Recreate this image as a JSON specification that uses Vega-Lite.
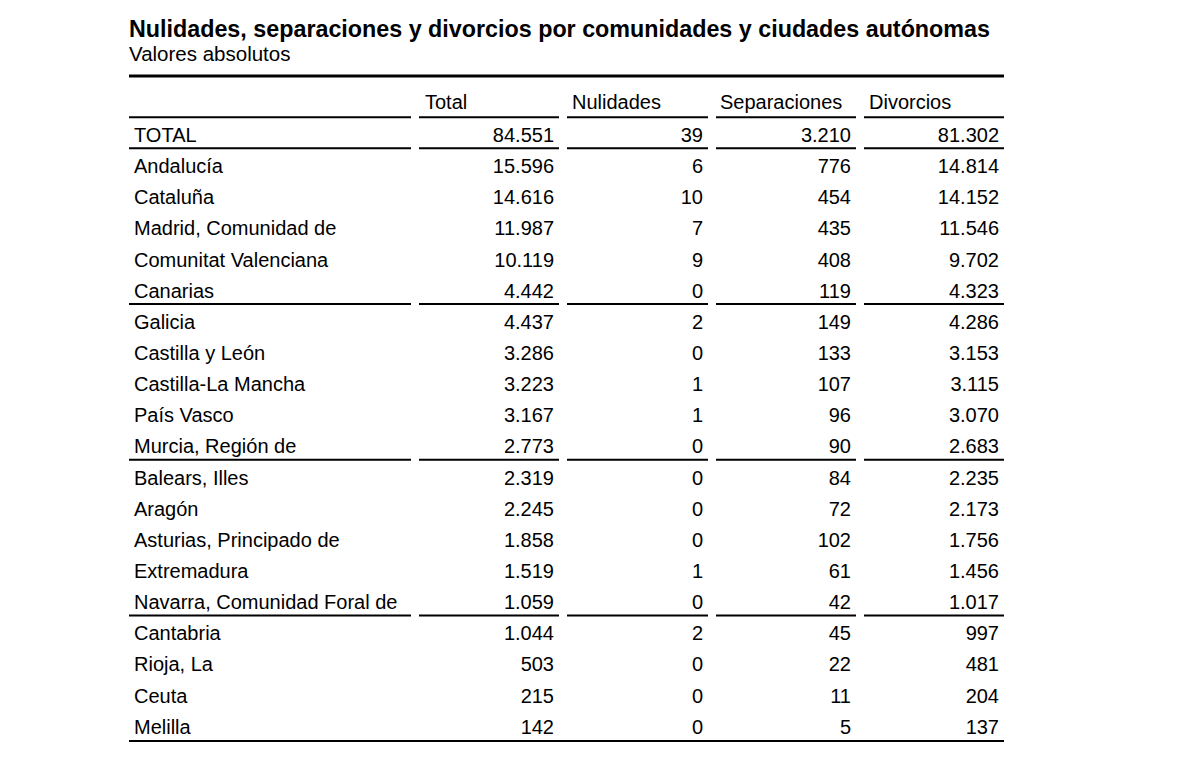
{
  "$schema": "https://vega.github.io/schema/vega-lite/v6.json",
  "padding": {"left": 127, "top": 17, "right": 10, "bottom": 10},
  "title": {
    "text": "Nulidades, separaciones y divorcios por comunidades y ciudades autónomas",
    "subtitle": "Valores absolutos",
    "anchor": "start",
    "frame": "group",
    "font": "Liberation Sans",
    "fontSize": 23.3,
    "fontWeight": "bold",
    "color": "black",
    "subtitleFont": "Liberation Sans",
    "subtitleFontSize": 20.5,
    "subtitleColor": "black",
    "subtitlePadding": 3,
    "offset": 8
  },
  "datasets": {
    "tabla": [
      {"Comunidad": "TOTAL", "Total": 84551, "Nulidades": 39, "Separaciones": 3210, "Divorcios": 81302},
      {"Comunidad": "Andalucía", "Total": 15596, "Nulidades": 6, "Separaciones": 776, "Divorcios": 14814},
      {"Comunidad": "Cataluña", "Total": 14616, "Nulidades": 10, "Separaciones": 454, "Divorcios": 14152},
      {"Comunidad": "Madrid, Comunidad de", "Total": 11987, "Nulidades": 7, "Separaciones": 435, "Divorcios": 11546},
      {"Comunidad": "Comunitat Valenciana", "Total": 10119, "Nulidades": 9, "Separaciones": 408, "Divorcios": 9702},
      {"Comunidad": "Canarias", "Total": 4442, "Nulidades": 0, "Separaciones": 119, "Divorcios": 4323},
      {"Comunidad": "Galicia", "Total": 4437, "Nulidades": 2, "Separaciones": 149, "Divorcios": 4286},
      {"Comunidad": "Castilla y León", "Total": 3286, "Nulidades": 0, "Separaciones": 133, "Divorcios": 3153},
      {"Comunidad": "Castilla-La Mancha", "Total": 3223, "Nulidades": 1, "Separaciones": 107, "Divorcios": 3115},
      {"Comunidad": "País Vasco", "Total": 3167, "Nulidades": 1, "Separaciones": 96, "Divorcios": 3070},
      {"Comunidad": "Murcia, Región de", "Total": 2773, "Nulidades": 0, "Separaciones": 90, "Divorcios": 2683},
      {"Comunidad": "Balears, Illes", "Total": 2319, "Nulidades": 0, "Separaciones": 84, "Divorcios": 2235},
      {"Comunidad": "Aragón", "Total": 2245, "Nulidades": 0, "Separaciones": 72, "Divorcios": 2173},
      {"Comunidad": "Asturias, Principado de", "Total": 1858, "Nulidades": 0, "Separaciones": 102, "Divorcios": 1756},
      {"Comunidad": "Extremadura", "Total": 1519, "Nulidades": 1, "Separaciones": 61, "Divorcios": 1456},
      {"Comunidad": "Navarra, Comunidad Foral de", "Total": 1059, "Nulidades": 0, "Separaciones": 42, "Divorcios": 1017},
      {"Comunidad": "Cantabria", "Total": 1044, "Nulidades": 2, "Separaciones": 45, "Divorcios": 997},
      {"Comunidad": "Rioja, La", "Total": 503, "Nulidades": 0, "Separaciones": 22, "Divorcios": 481},
      {"Comunidad": "Ceuta", "Total": 215, "Nulidades": 0, "Separaciones": 11, "Divorcios": 204},
      {"Comunidad": "Melilla", "Total": 142, "Nulidades": 0, "Separaciones": 5, "Divorcios": 137}
    ],
    "columnas": [
      {"columna": "Total"},
      {"columna": "Nulidades"},
      {"columna": "Separaciones"},
      {"columna": "Divorcios"}
    ],
    "vacio": [{}]
  },
  "spacing": 0,
  "vconcat": [
    {
      "data": {"name": "vacio"},
      "width": 875,
      "height": 10,
      "mark": {"type": "rule", "color": "black", "strokeWidth": 3},
      "encoding": {"y": {"datum": 1, "type": "quantitative", "scale": {"domain": [0, 1]}, "axis": null}}
    },
    {
      "spacing": 6,
      "hconcat": [
        {
          "width": 282,
          "height": 654,
          "layer": [
            {
              "data": {"name": "vacio"},
              "mark": {"type": "rule", "color": "black", "strokeWidth": 2},
              "encoding": {"y": {"datum": "encabezado", "type": "nominal", "bandPosition": 1, "axis": null,
                "scale": {"type": "band", "paddingInner": 0, "paddingOuter": 0, "domain": ["encabezado", "TOTAL", "Andalucía", "Cataluña", "Madrid, Comunidad de", "Comunitat Valenciana", "Canarias", "Galicia", "Castilla y León", "Castilla-La Mancha", "País Vasco", "Murcia, Región de", "Balears, Illes", "Aragón", "Asturias, Principado de", "Extremadura", "Navarra, Comunidad Foral de", "Cantabria", "Rioja, La", "Ceuta", "Melilla"]}}}
            },
            {
              "data": {"name": "tabla"},
              "transform": [{"filter": {"field": "Comunidad", "oneOf": ["TOTAL", "Canarias", "Murcia, Región de", "Navarra, Comunidad Foral de"]}}],
              "mark": {"type": "rule", "color": "black", "strokeWidth": 2},
              "encoding": {"y": {"field": "Comunidad", "type": "nominal", "bandPosition": 1, "axis": null}}
            },
            {
              "data": {"name": "tabla"},
              "mark": {"type": "text", "align": "left", "baseline": "alphabetic", "dx": 5, "font": "Liberation Sans", "fontSize": 20, "color": "black"},
              "encoding": {
                "x": {"datum": 0, "type": "quantitative", "scale": {"domain": [0, 1]}, "axis": null},
                "y": {"field": "Comunidad", "type": "nominal", "bandPosition": 0.8, "axis": null},
                "text": {"field": "Comunidad", "type": "nominal"}
              }
            }
          ]
        },
        {
          "width": 140,
          "height": 654,
          "layer": [
            {
              "data": {"name": "columnas"},
              "transform": [{"filter": "datum.columna == 'Total'"}],
              "mark": {"type": "text", "align": "left", "baseline": "alphabetic", "dx": 6, "font": "Liberation Sans", "fontSize": 20, "color": "black"},
              "encoding": {
                "x": {"datum": 0, "type": "quantitative", "scale": {"domain": [0, 1]}, "axis": null},
                "y": {"datum": "encabezado", "type": "nominal", "bandPosition": 0.73, "axis": null,
                  "scale": {"type": "band", "paddingInner": 0, "paddingOuter": 0, "domain": ["encabezado", "TOTAL", "Andalucía", "Cataluña", "Madrid, Comunidad de", "Comunitat Valenciana", "Canarias", "Galicia", "Castilla y León", "Castilla-La Mancha", "País Vasco", "Murcia, Región de", "Balears, Illes", "Aragón", "Asturias, Principado de", "Extremadura", "Navarra, Comunidad Foral de", "Cantabria", "Rioja, La", "Ceuta", "Melilla"]}},
                "text": {"field": "columna", "type": "nominal"}
              }
            },
            {
              "data": {"name": "vacio"},
              "mark": {"type": "rule", "color": "black", "strokeWidth": 2},
              "encoding": {"y": {"datum": "encabezado", "type": "nominal", "bandPosition": 1, "axis": null}}
            },
            {
              "data": {"name": "tabla"},
              "transform": [{"filter": {"field": "Comunidad", "oneOf": ["TOTAL", "Canarias", "Murcia, Región de", "Navarra, Comunidad Foral de"]}}],
              "mark": {"type": "rule", "color": "black", "strokeWidth": 2},
              "encoding": {"y": {"field": "Comunidad", "type": "nominal", "bandPosition": 1, "axis": null}}
            },
            {
              "data": {"name": "tabla"},
              "mark": {"type": "text", "align": "right", "baseline": "alphabetic", "dx": -5, "font": "Liberation Sans", "fontSize": 20, "color": "black"},
              "encoding": {
                "x": {"datum": 1, "type": "quantitative", "axis": null},
                "y": {"field": "Comunidad", "type": "nominal", "bandPosition": 0.8, "axis": null},
                "text": {"field": "Total", "type": "quantitative", "format": ",d"}
              }
            }
          ]
        },
        {
          "width": 141,
          "height": 654,
          "layer": [
            {
              "data": {"name": "columnas"},
              "transform": [{"filter": "datum.columna == 'Nulidades'"}],
              "mark": {"type": "text", "align": "left", "baseline": "alphabetic", "dx": 5, "font": "Liberation Sans", "fontSize": 20, "color": "black"},
              "encoding": {
                "x": {"datum": 0, "type": "quantitative", "scale": {"domain": [0, 1]}, "axis": null},
                "y": {"datum": "encabezado", "type": "nominal", "bandPosition": 0.73, "axis": null,
                  "scale": {"type": "band", "paddingInner": 0, "paddingOuter": 0, "domain": ["encabezado", "TOTAL", "Andalucía", "Cataluña", "Madrid, Comunidad de", "Comunitat Valenciana", "Canarias", "Galicia", "Castilla y León", "Castilla-La Mancha", "País Vasco", "Murcia, Región de", "Balears, Illes", "Aragón", "Asturias, Principado de", "Extremadura", "Navarra, Comunidad Foral de", "Cantabria", "Rioja, La", "Ceuta", "Melilla"]}},
                "text": {"field": "columna", "type": "nominal"}
              }
            },
            {
              "data": {"name": "vacio"},
              "mark": {"type": "rule", "color": "black", "strokeWidth": 2},
              "encoding": {"y": {"datum": "encabezado", "type": "nominal", "bandPosition": 1, "axis": null}}
            },
            {
              "data": {"name": "tabla"},
              "transform": [{"filter": {"field": "Comunidad", "oneOf": ["TOTAL", "Canarias", "Murcia, Región de", "Navarra, Comunidad Foral de"]}}],
              "mark": {"type": "rule", "color": "black", "strokeWidth": 2},
              "encoding": {"y": {"field": "Comunidad", "type": "nominal", "bandPosition": 1, "axis": null}}
            },
            {
              "data": {"name": "tabla"},
              "mark": {"type": "text", "align": "right", "baseline": "alphabetic", "dx": -5, "font": "Liberation Sans", "fontSize": 20, "color": "black"},
              "encoding": {
                "x": {"datum": 1, "type": "quantitative", "axis": null},
                "y": {"field": "Comunidad", "type": "nominal", "bandPosition": 0.8, "axis": null},
                "text": {"field": "Nulidades", "type": "quantitative", "format": ",d"}
              }
            }
          ]
        },
        {
          "width": 140,
          "height": 654,
          "layer": [
            {
              "data": {"name": "columnas"},
              "transform": [{"filter": "datum.columna == 'Separaciones'"}],
              "mark": {"type": "text", "align": "left", "baseline": "alphabetic", "dx": 4, "font": "Liberation Sans", "fontSize": 20, "color": "black"},
              "encoding": {
                "x": {"datum": 0, "type": "quantitative", "scale": {"domain": [0, 1]}, "axis": null},
                "y": {"datum": "encabezado", "type": "nominal", "bandPosition": 0.73, "axis": null,
                  "scale": {"type": "band", "paddingInner": 0, "paddingOuter": 0, "domain": ["encabezado", "TOTAL", "Andalucía", "Cataluña", "Madrid, Comunidad de", "Comunitat Valenciana", "Canarias", "Galicia", "Castilla y León", "Castilla-La Mancha", "País Vasco", "Murcia, Región de", "Balears, Illes", "Aragón", "Asturias, Principado de", "Extremadura", "Navarra, Comunidad Foral de", "Cantabria", "Rioja, La", "Ceuta", "Melilla"]}},
                "text": {"field": "columna", "type": "nominal"}
              }
            },
            {
              "data": {"name": "vacio"},
              "mark": {"type": "rule", "color": "black", "strokeWidth": 2},
              "encoding": {"y": {"datum": "encabezado", "type": "nominal", "bandPosition": 1, "axis": null}}
            },
            {
              "data": {"name": "tabla"},
              "transform": [{"filter": {"field": "Comunidad", "oneOf": ["TOTAL", "Canarias", "Murcia, Región de", "Navarra, Comunidad Foral de"]}}],
              "mark": {"type": "rule", "color": "black", "strokeWidth": 2},
              "encoding": {"y": {"field": "Comunidad", "type": "nominal", "bandPosition": 1, "axis": null}}
            },
            {
              "data": {"name": "tabla"},
              "mark": {"type": "text", "align": "right", "baseline": "alphabetic", "dx": -5, "font": "Liberation Sans", "fontSize": 20, "color": "black"},
              "encoding": {
                "x": {"datum": 1, "type": "quantitative", "axis": null},
                "y": {"field": "Comunidad", "type": "nominal", "bandPosition": 0.8, "axis": null},
                "text": {"field": "Separaciones", "type": "quantitative", "format": ",d"}
              }
            }
          ]
        },
        {
          "width": 140,
          "height": 654,
          "layer": [
            {
              "data": {"name": "columnas"},
              "transform": [{"filter": "datum.columna == 'Divorcios'"}],
              "mark": {"type": "text", "align": "left", "baseline": "alphabetic", "dx": 5, "font": "Liberation Sans", "fontSize": 20, "color": "black"},
              "encoding": {
                "x": {"datum": 0, "type": "quantitative", "scale": {"domain": [0, 1]}, "axis": null},
                "y": {"datum": "encabezado", "type": "nominal", "bandPosition": 0.73, "axis": null,
                  "scale": {"type": "band", "paddingInner": 0, "paddingOuter": 0, "domain": ["encabezado", "TOTAL", "Andalucía", "Cataluña", "Madrid, Comunidad de", "Comunitat Valenciana", "Canarias", "Galicia", "Castilla y León", "Castilla-La Mancha", "País Vasco", "Murcia, Región de", "Balears, Illes", "Aragón", "Asturias, Principado de", "Extremadura", "Navarra, Comunidad Foral de", "Cantabria", "Rioja, La", "Ceuta", "Melilla"]}},
                "text": {"field": "columna", "type": "nominal"}
              }
            },
            {
              "data": {"name": "vacio"},
              "mark": {"type": "rule", "color": "black", "strokeWidth": 2},
              "encoding": {"y": {"datum": "encabezado", "type": "nominal", "bandPosition": 1, "axis": null}}
            },
            {
              "data": {"name": "tabla"},
              "transform": [{"filter": {"field": "Comunidad", "oneOf": ["TOTAL", "Canarias", "Murcia, Región de", "Navarra, Comunidad Foral de"]}}],
              "mark": {"type": "rule", "color": "black", "strokeWidth": 2},
              "encoding": {"y": {"field": "Comunidad", "type": "nominal", "bandPosition": 1, "axis": null}}
            },
            {
              "data": {"name": "tabla"},
              "mark": {"type": "text", "align": "right", "baseline": "alphabetic", "dx": -5, "font": "Liberation Sans", "fontSize": 20, "color": "black"},
              "encoding": {
                "x": {"datum": 1, "type": "quantitative", "axis": null},
                "y": {"field": "Comunidad", "type": "nominal", "bandPosition": 0.8, "axis": null},
                "text": {"field": "Divorcios", "type": "quantitative", "format": ",d"}
              }
            }
          ]
        }
      ]
    },
    {
      "data": {"name": "vacio"},
      "width": 875,
      "height": 1,
      "mark": {"type": "rule", "color": "black", "strokeWidth": 2},
      "encoding": {"y": {"datum": 1, "type": "quantitative", "scale": {"domain": [0, 1]}, "axis": null}}
    }
  ],
  "config": {
    "view": {"stroke": null},
    "locale": {"number": {"decimal": ",", "thousands": ".", "grouping": [3], "currency": ["", " €"]}},
    "concat": {"spacing": 0}
  }
}
